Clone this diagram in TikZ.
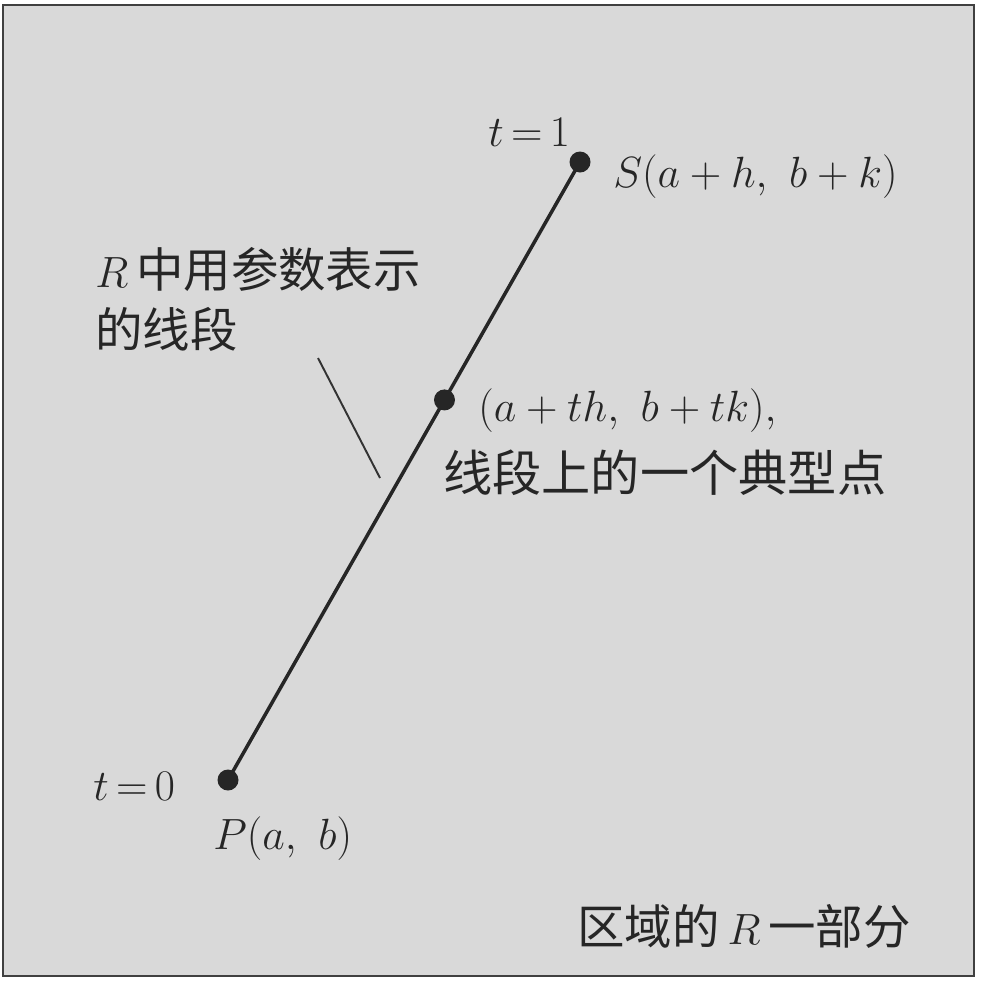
\documentclass[tikz,border=0pt]{standalone}
\usepackage{fontspec}
\newfontfamily\cjk{Noto Sans CJK SC}
\usetikzlibrary{calc}

\begin{document}
\begin{tikzpicture}[x=0.2mm,y=-0.2mm,font=\fontsize{27}{34}\selectfont,text=black!85,
  dot/.style={circle,fill=black!85,inner sep=0pt,minimum size=4.2mm},
  lbl/.style={inner sep=0pt,anchor=base west}]
\useasboundingbox (0,0) rectangle (986,981);
% region R
\draw[line width=1.4pt,draw=black!75,fill=black!15] (3,5) rectangle (974,976);

% points on the segment
\node[dot] (P) at (228,780) {};
\node[dot] (S) at (580,162) {};
\node[dot] (M) at ($(P)!0.615!(S)$) {};
\draw[line width=2pt,black!85] (P.center) -- (S.center);

% leader to the segment
\coordinate (lead1) at (318,358);
\coordinate (lead2) at (380,478);
\draw[line width=1.1pt,black!80] (lead1) -- (lead2);

\node[lbl] (tone) at (488,146) {$t\,{=}\,1$};
\node[lbl] (Slbl) at (613,187) {$S(a+h,\ b+k)$};
\node[lbl,align=left] (seg) at (95,347) {$R$\,{\cjk 中用参数表示}\\{\cjk 的线段}};
\node[lbl] (Mlbl) at (478,421) {$(a+th,\ b+tk),$};
\node[lbl] (Mtxt) at (443,491) {\fontsize{28}{34}\selectfont\cjk 线段上的一个典型点};
\node[lbl] (tzero) at (93,800) {$t\,{=}\,0$};
\node[lbl] (Plbl) at (213,849) {$P(a,\ b)$};
\node[lbl] (Rlbl) at (577,944) {{\cjk 区域的}\,$R$\,{\cjk 一部分}};
\end{tikzpicture}
\end{document}
